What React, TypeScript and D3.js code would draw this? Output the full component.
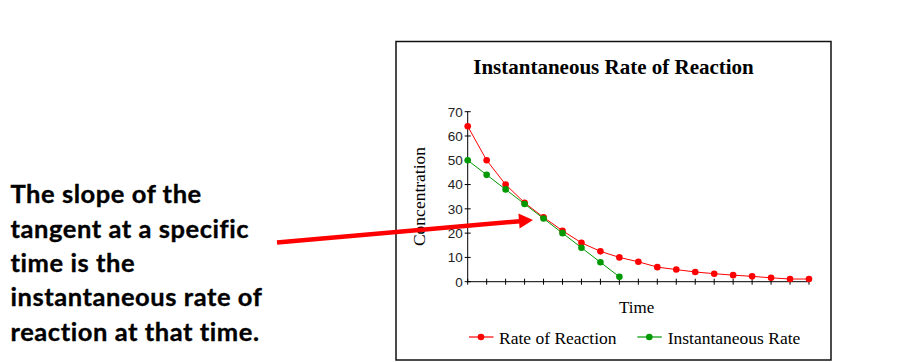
import React from 'react';
import * as d3 from 'd3';

// readings, one per time step
const rateOfReaction = [64, 50, 40, 32.5, 26.5, 21, 16, 12.5, 10, 8.2, 6, 5, 4, 3.3, 2.7, 2.2, 1.6, 1.1, 1.1];
const instantaneousRate = [50, 44, 38, 32, 26, 20, 14, 8, 2];
const yTicks = [0, 10, 20, 30, 40, 50, 60, 70];

const chartTitle = 'Instantaneous Rate of Reaction';
const xLabel = 'Time';
const yLabel = 'Concentration';
const seriesNames = ['Rate of Reaction', 'Instantaneous Rate'];
const seriesColors = ['#ff0000', '#009900'];

const noteLines = [
    'The slope of the',
    'tangent at a specific',
    'time is the',
    'instantaneous rate of',
    'reaction at that time.'
];

const W = 918;
const H = 362;
const serif = '"Liberation Serif", "Times New Roman", serif';

export default function App()
{
    const plot = {left: 467.7, right: 809, top: 111.7, bottom: 281.7};

    const xScale = d3.scaleLinear()
        .domain([0, rateOfReaction.length - 1])
        .range([plot.left, plot.right]);

    const yScale = d3.scaleLinear()
        .domain([0, 70])
        .range([plot.bottom, plot.top]);

    const line = d3.line<number>()
        .x((d, i) => xScale(i))
        .y(d => yScale(d));

    const series = [rateOfReaction, instantaneousRate];

    let xTicks = rateOfReaction.map((d, i) => i);

    return (
        <svg width={W} height={H} style={{position: 'absolute', left: 0, top: 0}}>
            <rect x={0} y={0} width={W} height={H} fill="#fff"/>

            {/* left-hand note */}
            <g fontFamily='Lato, "Open Sans", sans-serif' fontWeight="bold" fontSize={25.5}
               letterSpacing={0.55} fill="#000" stroke="#000" strokeWidth={0.35}>
                {noteLines.map((t, i) =>
                    <text key={i} x={10.5} y={203.3 + i * 34.35}>{t}</text>
                )}
            </g>

            {/* chart frame */}
            <rect x={396} y={41.5} width={435} height={318.5} fill="#fff" stroke="#111" strokeWidth={1.5}/>

            <text x={613.5} y={74} textAnchor="middle" fontFamily={serif} fontWeight="bold" fontSize={21}>
                {chartTitle}
            </text>

            {/* y axis */}
            <g stroke="#000" strokeWidth={1}>
                <line x1={plot.left} x2={plot.left} y1={yScale(70)} y2={yScale(0)}/>
                {yTicks.map(t =>
                    <line key={t} x1={plot.left - 3} x2={plot.left + 3} y1={yScale(t)} y2={yScale(t)}/>
                )}
            </g>
            <g fontFamily='"Liberation Sans", Arial, sans-serif' fontSize={13.5} fill="#222" textAnchor="end">
                {yTicks.map(t =>
                    <text key={t} x={plot.left - 5} y={yScale(t)} dy="0.36em">{t}</text>
                )}
            </g>

            {/* x axis */}
            <g stroke="#000" strokeWidth={1}>
                <line x1={plot.left} x2={plot.right} y1={plot.bottom} y2={plot.bottom}/>
                {xTicks.map(i =>
                    <line key={i} x1={xScale(i)} x2={xScale(i)} y1={plot.bottom - 3} y2={plot.bottom + 3}/>
                )}
            </g>

            <text x={636.7} y={312.7} textAnchor="middle" fontFamily={serif} fontSize={17}>{xLabel}</text>
            <text transform="translate(425,196.5) rotate(-90)" textAnchor="middle" fontFamily={serif} fontSize={17.5}>
                {yLabel}
            </text>

            {/* series */}
            {series.map((s, k) =>
                <g key={k}>
                    <path d={line(s) || ''} fill="none" stroke={seriesColors[k]} strokeWidth={1}/>
                    {s.map((d, i) =>
                        <circle key={i} cx={xScale(i)} cy={yScale(d)} r={3.3} fill={seriesColors[k]}/>
                    )}
                </g>
            )}

            {/* legend */}
            {[{x: 469, tx: 499}, {x: 637.3, tx: 667.7}].map((p, k) =>
                <g key={k}>
                    <line x1={p.x} x2={p.x + 24.5} y1={337} y2={337} stroke={seriesColors[k]} strokeWidth={1.2}/>
                    <circle cx={p.x + 12} cy={337} r={3.3} fill={seriesColors[k]}/>
                    <text x={p.tx} y={344.3} fontFamily={serif} fontSize={17.5}>{seriesNames[k]}</text>
                </g>
            )}

            {/* pointer arrow */}
            <line x1={277} y1={242.5} x2={520} y2={221.2} stroke="#ff0000" strokeWidth={4.5}/>
            <polygon points="533,220 518.4,213.6 519.6,228.6" fill="#ff0000"/>
        </svg>
    );
}
